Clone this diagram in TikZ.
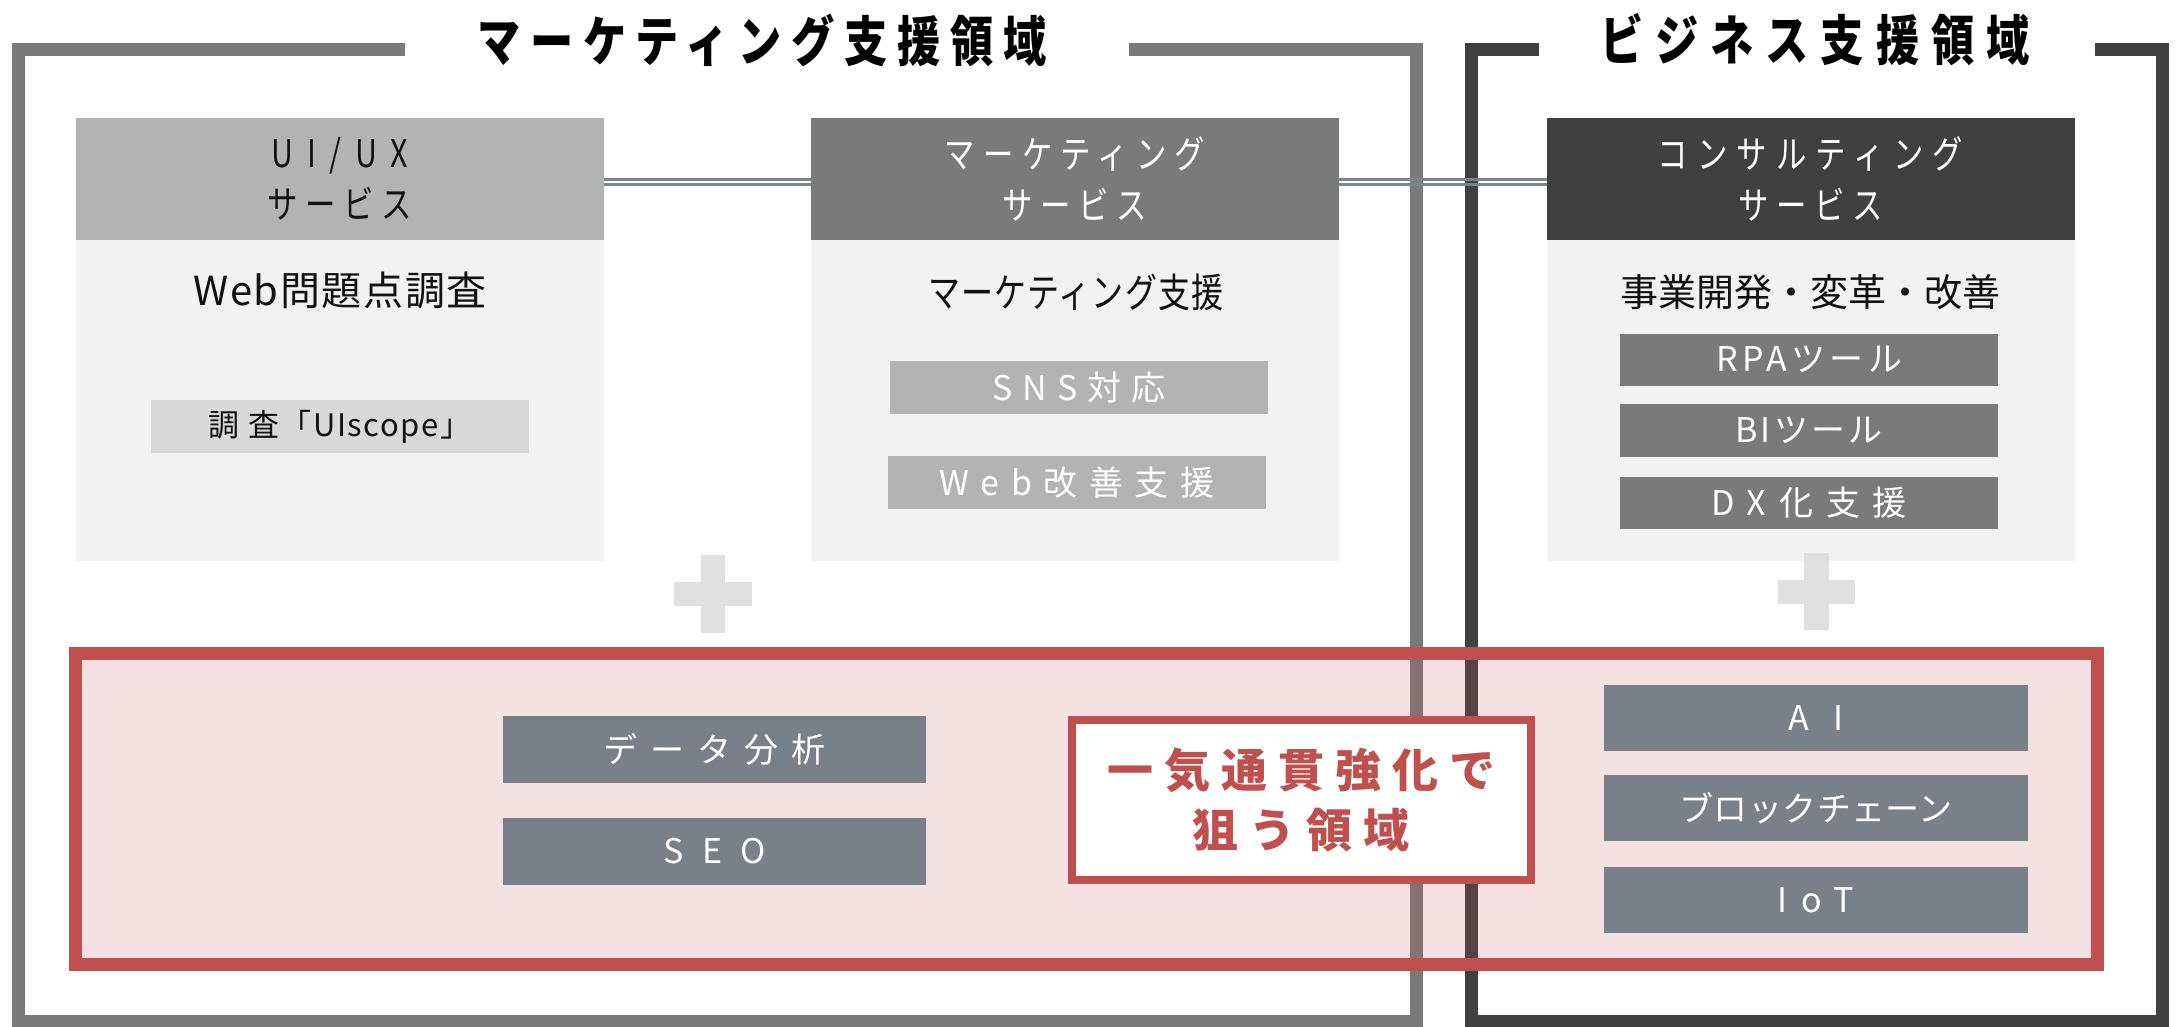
\documentclass[tikz,border=0pt]{standalone}
\usepackage{fontspec}
\setmainfont{Noto Sans CJK JP}
\newfontfamily\jp{Noto Sans CJK JP}
\newfontfamily\jpc[FakeStretch=0.8]{Noto Sans CJK JP}
\newcommand{\ls}[2]{{\addfontfeature{LetterSpace=#1}#2}}
\definecolor{frameL}{HTML}{7A7A7A}
\definecolor{frameR}{HTML}{404040}
\definecolor{hdA}{HTML}{B3B3B3}
\definecolor{hdB}{HTML}{7A7A7A}
\definecolor{hdC}{HTML}{404040}
\definecolor{bodyc}{HTML}{F2F2F2}
\definecolor{subA}{HTML}{D9D9D9}
\definecolor{subB}{HTML}{B3B3B3}
\definecolor{subC}{HTML}{7A7A7A}
\definecolor{slate}{HTML}{7A8087}
\definecolor{accent}{HTML}{C0504D}
\definecolor{plusc}{HTML}{E0E0E0}
\definecolor{linkc}{HTML}{7A868E}
\definecolor{txt}{HTML}{111111}
\begin{document}
\begin{tikzpicture}[x=1pt,y=-1pt,
  box/.style={rectangle, inner sep=0pt, outer sep=0pt, draw=none},
  hd/.style={box, minimum width=528pt, minimum height=122pt, align=center, font=\jpc\fontsize{38}{51}\selectfont},
  bd/.style={box, fill=bodyc, minimum width=528pt, minimum height=321pt},
  bodytxt/.style={box, text=txt},
  subbox/.style={box, minimum width=378pt, minimum height=53pt, text=white, font=\jp\fontsize{34}{40}\selectfont},
  slatebox/.style={box, fill=slate, minimum width=423pt, minimum height=67pt, text=white, font=\jp\fontsize{34}{40}\selectfont},
  frameline/.style={line width=13pt},
  link/.style={draw=linkc, line width=3pt},
  title/.style={box, text=black, font=\jpc\bfseries\fontsize{54}{60}\selectfont},
  plusbar/.style={fill=plusc, draw=none}
]
\useasboundingbox (0,0) rectangle (2178,1026);

% frames
\draw[frameline, draw=frameL] (405,49.5) -- (18.5,49.5) -- (18.5,1021) -- (1416.5,1021) -- (1416.5,49.5) -- (1129,49.5);
\draw[frameline, draw=frameR] (1539,49.5) -- (1471,49.5) -- (1471,1021) -- (2162.5,1021) -- (2162.5,49.5) -- (2095,49.5);

% titles
\node[title] (t1) at (762,40) {\ls{18}{マーケティング支援領域}};
\node[title] (t2) at (1815,40) {\ls{22}{ビジネス支援領域}};

% cards
\node[hd, fill=hdA, text=txt] (uih) at (340,179) {\ls{36}{UI/UX}\\\ls{20}{サービス}};
\node[bd] (uib) at (340,400.5) {};
\node[hd, fill=hdB, text=white] (mkh) at (1075,179) {\ls{22}{マーケティング}\\\ls{20}{サービス}};
\node[bd] (mkb) at (1075,400.5) {};
\node[hd, fill=hdC, text=white] (csh) at (1810.5,179) {\ls{24}{コンサルティング}\\\ls{20}{サービス}};
\node[bd] (csb) at (1810.5,400.5) {};

\node[bodytxt, font=\jp\fontsize{40}{46}\selectfont] (uit) at (340,290) {\ls{4}{Web問題点調査}};
\node[bodytxt, font=\jpc\fontsize{40}{46}\selectfont] (mkt) at (1076,292) {\ls{3}{マーケティング支援}};
\node[bodytxt, font=\jp\fontsize{38}{46}\selectfont] (cst) at (1810,292) {事業開発・変革・改善};

% sub boxes
\node[subbox, fill=subA, text=txt, font=\jp\fontsize{31}{40}\selectfont] (uis) at (340,426.5) {\ls{5}{調 査「UIscope」}};
\node[subbox, fill=subB] (sns) at (1079,387.5) {\ls{30}{SNS対応}};
\node[subbox, fill=subB] (web) at (1077,482.5) {\ls{34}{Web改善支援}};
\node[subbox, fill=subC, minimum height=52pt] (rpa) at (1809,359.5) {\ls{13}{RPAツール}};
\node[subbox, fill=subC] (bi) at (1809,430.5) {\ls{10}{BIツール}};
\node[subbox, fill=subC, minimum height=52pt] (dx) at (1809,503) {\ls{38}{DX化支援}};

% connectors
\draw[link] (uih.east) -- (mkh.west);
\draw[link] ([yshift=-5.5pt]uih.east) -- ([yshift=-5.5pt]mkh.west);
\draw[link] (mkh.east) -- (csh.west);
\draw[link] ([yshift=-5.5pt]mkh.east) -- ([yshift=-5.5pt]csh.west);

% plus signs
\coordinate (p1) at (713,594);
\fill[plusbar] ([xshift=-12pt,yshift=39pt]p1) rectangle ([xshift=12pt,yshift=-39pt]p1);
\fill[plusbar] ([xshift=-39pt,yshift=12pt]p1) rectangle ([xshift=39pt,yshift=-12pt]p1);
\coordinate (p2) at (1816.5,591.5);
\fill[plusbar] ([xshift=-12.5pt,yshift=38.5pt]p2) rectangle ([xshift=12.5pt,yshift=-38.5pt]p2);
\fill[plusbar] ([xshift=-38.5pt,yshift=12pt]p2) rectangle ([xshift=38.5pt,yshift=-12pt]p2);

% target region
\draw[draw=accent, line width=13pt, fill=accent, fill opacity=0.17] (75,653) rectangle (2097,964);

\node[slatebox] (da) at (714.5,749.5) {\ls{38}{データ分析}};
\node[slatebox] (seo) at (714.5,851.5) {\ls{53}{SEO}};
\node[slatebox, minimum width=424pt, minimum height=66pt] (ai) at (1816,718) {\ls{70}{AI}};
\node[slatebox, minimum width=424pt, minimum height=66pt] (bc) at (1816,808) {\ls{1}{ブロックチェーン}};
\node[slatebox, minimum width=424pt, minimum height=66pt] (iot) at (1816,900) {\ls{41}{IoT}};

\node[box, draw=accent, line width=8pt, fill=white, minimum width=459.5pt, minimum height=159.5pt, text=accent, align=center, font=\jp\bfseries\fontsize{46}{60}\selectfont] (goal) at (1301.25,799.75) {\ls{24}{一気通貫強化で}\\\ls{24}{狙う領域}};
\end{tikzpicture}
\end{document}
